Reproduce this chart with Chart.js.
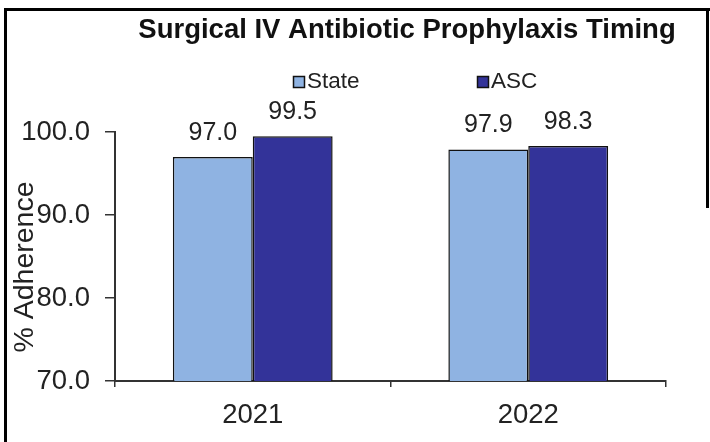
<!DOCTYPE html>
<html>
<head>
<meta charset="utf-8">
<title>Surgical IV Antibiotic Prophylaxis Timing</title>
<script src="https://cdn.jsdelivr.net/npm/chart.js@4/dist/chart.umd.min.js"></script>
<style>
    html, body { margin: 0; padding: 0; background: #fff; }
    #chartCanvas { display: block; }
</style>
</head>
<body>
<canvas id="chartCanvas" width="710" height="442"></canvas>
<script>
const chartTitle = 'Surgical IV Antibiotic Prophylaxis Timing';
const yAxisTitle = '% Adherence';
const years = ['2021', '2022'];
const seriesNames = ['State', 'ASC'];
const stateValues = [97.0, 97.9];
const ascValues = [99.5, 98.3];
const yTickValues = [70, 80, 90, 100];

const stateColor = '#8fb3e2';
const ascColor = '#333399';
const textColor = '#222';
const axisColor = '#333';
const fontFamily = '"Liberation Sans", Arial, sans-serif';

Chart.defaults.font.family = fontFamily;

// title, legend, axis title, value labels and frame are drawn by hand
const decorPlugin = {
    id: 'decor',
    afterDraw(chart) {
        const ctx = chart.ctx;
        ctx.save();

        // frame
        ctx.fillStyle = '#000';
        ctx.fillRect(4, 8, 706, 3);
        ctx.fillRect(4, 8, 3, 434);
        ctx.fillRect(706, 8, 3, 200);

        // title
        ctx.fillStyle = '#111';
        ctx.font = 'bold 27.5px ' + fontFamily;
        ctx.textAlign = 'center';
        ctx.textBaseline = 'alphabetic';
        ctx.fillText(chartTitle, 407, 38);

        // legend
        const legendX = [293, 477];
        ctx.font = '22.5px ' + fontFamily;
        ctx.textAlign = 'left';
        chart.data.datasets.forEach((ds, i) => {
            ctx.fillStyle = ds.backgroundColor;
            ctx.fillRect(legendX[i], 76, 12, 12);
            ctx.strokeStyle = '#111';
            ctx.lineWidth = 1.5;
            ctx.strokeRect(legendX[i] + 0.5, 76.5, 11, 11);
            ctx.fillStyle = textColor;
            ctx.fillText(ds.label, legendX[i] + 14, 88);
        });

        // value labels
        ctx.font = '25px ' + fontFamily;
        ctx.textAlign = 'center';
        chart.data.datasets.forEach((ds, i) => {
            chart.getDatasetMeta(i).data.forEach((bar, j) => {
                ctx.fillText(ds.data[j].toFixed(1), bar.x, bar.y - 17);
            });
        });

        // y axis title
        ctx.translate(33, 267);
        ctx.rotate(-Math.PI / 2);
        ctx.font = '28.5px ' + fontFamily;
        ctx.fillText(yAxisTitle, 0, 0);

        ctx.restore();
    }
};

const ctx = document.getElementById('chartCanvas').getContext('2d');

new Chart(ctx, {
    type: 'bar',
    data: {
        labels: years,
        datasets: [{
            label: seriesNames[0],
            data: stateValues,
            backgroundColor: stateColor,
            borderColor: '#111',
            borderWidth: 1.5
        }, {
            label: seriesNames[1],
            data: ascValues,
            backgroundColor: ascColor,
            borderColor: '#111',
            borderWidth: 1.5
        }]
    },
    options: {
        responsive: false,
        animation: false,
        layout: {
            padding: { top: 132, right: 44, bottom: 0, left: 0 }
        },
        datasets: {
            bar: { categoryPercentage: 0.58, barPercentage: 1.0 }
        },
        scales: {
            x: {
                grid: {
                    drawOnChartArea: false,
                    tickLength: 6,
                    color: axisColor,
                    lineWidth: 1.5
                },
                border: { color: axisColor, width: 2 },
                ticks: {
                    color: textColor,
                    font: { size: 27.5 },
                    padding: 12
                },
                afterFit(scale) { scale.height = 61; }
            },
            y: {
                min: 70,
                max: 100,
                afterBuildTicks(scale) {
                    scale.ticks = yTickValues.map(v => ({ value: v }));
                },
                grid: {
                    drawOnChartArea: false,
                    tickLength: 10,
                    color: axisColor,
                    lineWidth: 1.5
                },
                border: { color: axisColor, width: 2 },
                ticks: {
                    color: textColor,
                    font: { size: 27.5 },
                    padding: 15,
                    callback: v => v.toFixed(1)
                },
                afterFit(scale) { scale.width = 115; }
            }
        },
        plugins: {
            legend: { display: false },
            title: { display: false },
            tooltip: { enabled: false }
        }
    },
    plugins: [decorPlugin]
});
</script>
</body>
</html>
